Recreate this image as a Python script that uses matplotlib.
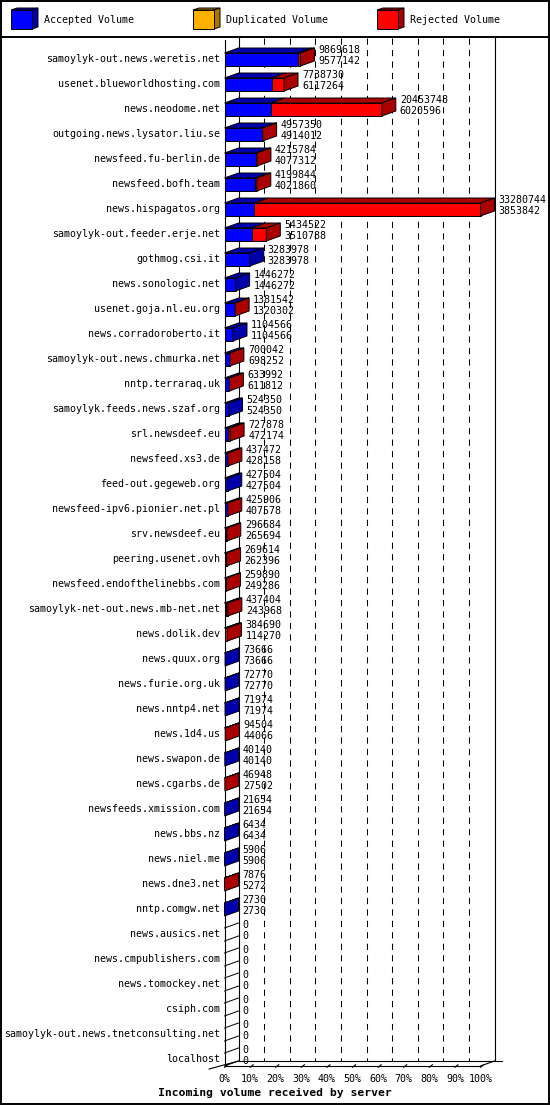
import matplotlib
matplotlib.use("Agg")
import matplotlib.pyplot as plt
from matplotlib.patches import Polygon, Rectangle

servers = [
    "samoylyk-out.news.weretis.net", "usenet.blueworldhosting.com", "news.neodome.net",
    "outgoing.news.lysator.liu.se", "newsfeed.fu-berlin.de", "newsfeed.bofh.team",
    "news.hispagatos.org", "samoylyk-out.feeder.erje.net", "gothmog.csi.it",
    "news.sonologic.net", "usenet.goja.nl.eu.org", "news.corradoroberto.it",
    "samoylyk-out.news.chmurka.net", "nntp.terraraq.uk", "samoylyk.feeds.news.szaf.org",
    "srl.newsdeef.eu", "newsfeed.xs3.de", "feed-out.gegeweb.org",
    "newsfeed-ipv6.pionier.net.pl", "srv.newsdeef.eu", "peering.usenet.ovh",
    "newsfeed.endofthelinebbs.com", "samoylyk-net-out.news.mb-net.net", "news.dolik.dev",
    "news.quux.org", "news.furie.org.uk", "news.nntp4.net", "news.1d4.us",
    "news.swapon.de", "news.cgarbs.de", "newsfeeds.xmission.com", "news.bbs.nz",
    "news.niel.me", "news.dne3.net", "nntp.comgw.net", "news.ausics.net",
    "news.cmpublishers.com", "news.tomockey.net", "csiph.com",
    "samoylyk-out.news.tnetconsulting.net", "localhost",
]
total_volume = [
    9869618, 7738730, 20453748, 4957350, 4215784, 4199844, 33280744, 5434522,
    3283978, 1446272, 1381542, 1104566, 700042, 633992, 524350, 727878, 437472,
    427504, 425906, 296684, 269614, 259890, 437404, 384690, 73666, 72770, 71974,
    94504, 40140, 46948, 21654, 6434, 5906, 7876, 2730, 0, 0, 0, 0, 0, 0,
]
accepted_volume = [
    9577142, 6117264, 6020596, 4914012, 4077312, 4021860, 3853842, 3510788,
    3283978, 1446272, 1320302, 1104566, 698252, 611812, 524350, 472174, 428158,
    427504, 407578, 265694, 262396, 249286, 243968, 114270, 73666, 72770, 71974,
    44066, 40140, 27502, 21654, 6434, 5906, 5272, 2730, 0, 0, 0, 0, 0, 0,
]
legend_labels = ["Accepted Volume", "Duplicated Volume", "Rejected Volume"]
tick_labels = ["%d%%" % p for p in range(0, 101, 10)]

W, H = 550, 1105
X0, PX_PCT = 224.5, 2.56      # pixel of 0 %, pixels per percent
Y0, ROW = 59, 25              # pixel of first row centre, row pitch
DX, DY = 14 / PX_PCT, 5 / ROW  # 3d depth in data units
TOP, BOT = -6 / ROW, 7 / ROW

BLUE, DBLUE = "#0000ff", "#0000aa"
ORANGE, DORANGE = "#ffb000", "#aa7500"
RED, DRED = "#ff0000", "#aa0000"
MONO = "DejaVu Sans Mono"
FS = 7.2

fig = plt.figure(figsize=(W / 100, H / 100), dpi=100)
ax = fig.add_axes([0, 0, 1, 1])
ax.set_xlim(-X0 / PX_PCT, (W - X0) / PX_PCT)
ax.set_ylim((H - Y0) / ROW, -Y0 / ROW)
ax.axis("off")

# layout axes in pixels for frame, legend and title
lay = fig.add_axes([0, 0, 1, 1], zorder=-1)
lay.set_xlim(0, W)
lay.set_ylim(H, 0)
lay.axis("off")
lay.add_patch(Rectangle((0.5, 0.5), W - 1.5, H - 1.5, fill=False, lw=1.4, ec="black"))
lay.plot([0, W], [37, 37], color="black", lw=1.4)

for i, (lab, c, dc) in enumerate(zip(legend_labels, [BLUE, ORANGE, RED], [DBLUE, DORANGE, DRED])):
    x = [11, 193, 377][i]
    lay.add_patch(Polygon([(x, 10), (x + 6, 8), (x + 27, 8), (x + 21, 10)], fc=dc, ec="black", lw=0.7))
    lay.add_patch(Polygon([(x + 21, 10), (x + 27, 8), (x + 27, 27), (x + 21, 29)], fc=dc, ec="black", lw=0.7))
    lay.add_patch(Rectangle((x, 10), 21, 19, fc=c, ec="black", lw=0.7))
    lay.text(x + 33, 20, lab, family=MONO, fontsize=FS, va="center", ha="left")

lay.text(W / 2, 1093, "Incoming volume received by server", family=MONO,
         fontsize=8.2, fontweight="bold", ha="center", va="center")

n = len(servers)
vmax = max(total_volume)
last = n - 1
floor_y = last + BOT

# back wall and grid
ax.plot([DX, DX], [-21 / ROW + 0, floor_y - DY], color="black", lw=0.8)
ax.plot([100 + DX, 100 + DX], [-21 / ROW, floor_y - DY], color="black", lw=0.8)
ax.plot([0, 0], [-19 / ROW, floor_y], color="black", lw=0.8)
for p in range(10, 100, 10):
    ax.plot([p + DX, p + DX], [-21 / ROW, floor_y - DY], color="black", lw=0.75,
            linestyle=(0, (6, 5)))

# floor
ax.plot([0, 100], [floor_y, floor_y], color="black", lw=0.8)
ax.plot([DX, 100 + DX + 3], [floor_y - DY, floor_y - DY], color="black", lw=0.8)
ax.plot([100, 100 + DX], [floor_y, floor_y - DY], color="black", lw=0.8)
ax.plot([-6, DX], [floor_y + 0.12, floor_y - DY], color="black", lw=0.8)
for p, t in zip(range(0, 101, 10), tick_labels):
    ax.plot([p, p + 1.2], [floor_y + 0.05, floor_y - 0.05], color="black", lw=0.8)
    ax.text(p, floor_y + 12.5 / ROW, t, family=MONO, fontsize=FS, ha="center", va="center")


def bar3d(r, x1, x2, front, dark, side):
    top, bot = r + TOP, r + BOT
    ax.add_patch(Polygon([(x1, top), (x1 + DX, top - DY), (x2 + DX, top - DY), (x2, top)],
                         fc=dark, ec="black", lw=0.7, zorder=3))
    ax.add_patch(Rectangle((x1, top), x2 - x1, bot - top, fc=front, ec="black", lw=0.7, zorder=3))
    if side:
        ax.add_patch(Polygon([(x2, top), (x2 + DX, top - DY), (x2 + DX, bot - DY), (x2, bot)],
                             fc=dark, ec="black", lw=0.7, zorder=3))


for r, (name, tot, acc) in enumerate(zip(servers, total_volume, accepted_volume)):
    ax.text(-4.5 / PX_PCT, r, name, family=MONO, fontsize=FS, ha="right", va="center")
    xa = acc / vmax * 100
    xt = tot / vmax * 100
    if tot == 0:
        ax.plot([0, DX], [r + TOP, r + TOP - DY], color="black", lw=0.7, zorder=3)
        ax.plot([0, DX], [r + BOT, r + BOT - DY], color="black", lw=0.7, zorder=3)
    else:
        if acc > 0:
            bar3d(r, 0, xa, BLUE, DBLUE, acc == tot)
        if tot > acc:
            bar3d(r, xa, xt, RED, DRED, True)
    xl = xt + DX + 4 / PX_PCT
    ax.text(xl, r - 9 / ROW, str(tot), family=MONO, fontsize=FS, ha="left", va="center", zorder=4)
    ax.text(xl, r + 2 / ROW, str(acc), family=MONO, fontsize=FS, ha="left", va="center", zorder=4)

fig.savefig("out.png", dpi=100)
